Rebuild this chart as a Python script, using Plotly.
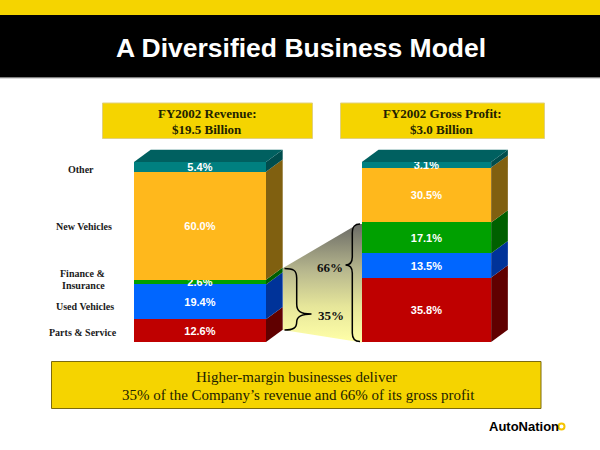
import plotly.graph_objects as go

charts = ["FY2002 Revenue", "FY2002 Gross Profit"]
segments = ["Parts & Service", "Used Vehicles", "Finance & Insurance", "New Vehicles", "Other"]
revenue = [12.6, 19.4, 2.6, 60.0, 5.4]
gross_profit = [35.8, 13.5, 17.1, 30.5, 3.1]
front = ["#BF0000", "#0066FF", "#00A000", "#FFB81C", "#008080"]
side = ["#600000", "#003399", "#006000", "#806010", "#004D4D"]
top_face = "#006060"

PX_X = 226.5          # pixels between the bar centres
PX_Y = 1.8            # pixels per percent
bar_w = [132 / PX_X, 129.3 / PX_X]
DX = 16.7 / PX_X
DY = 12.2 / PX_Y
YEL = "#F5D400"
SERIF = "Liberation Serif"
SANS = "Liberation Sans"

fig = go.Figure()
for i, seg in enumerate(segments):
    vals = [revenue[i], gross_profit[i]]
    fig.add_bar(x=[0, 1], y=vals, width=bar_w, name=seg, marker=dict(color=front[i], line=dict(width=0)),
                text=[f"{v:.1f}%" for v in vals], textposition="inside", insidetextanchor="middle",
                textangle=0, constraintext="none", cliponaxis=False,
                textfont=dict(family=SANS, size=11, color="#FFFFFF", weight="bold"),
                hoverinfo="skip", showlegend=False)

shapes = []
def rect(x0, y0, x1, y1, fill, line=None, lw=1):
    shapes.append(dict(type="rect", xref="x2", yref="y2", x0=x0, y0=y0, x1=x1, y1=y1, fillcolor=fill,
                       line=dict(color=line or fill, width=lw if line else 0), layer="below"))

rect(0, 0, 600, 15, YEL)
rect(0, 15, 600, 77.5, "#000000")
shapes.append(dict(type="line", xref="x2", yref="y2", x0=0, x1=600, y0=77.8, y1=77.8, line=dict(color="#808080", width=1), layer="below"))
rect(102.5, 103, 312.5, 138.5, YEL, "#E0D080")
rect(340.5, 103, 544.5, 138.5, YEL, "#E0D080")
rect(51.5, 361.5, 541, 408.5, YEL, "#7A6A10", 1)

# 3D faces from the cumulative values
for b, vals in enumerate([revenue, gross_profit]):
    xr = b + bar_w[b] / 2
    xl = b - bar_w[b] / 2
    cum = 0
    for i, v in enumerate(vals):
        shapes.append(dict(type="path", xref="x", yref="y", layer="above", line=dict(width=0), fillcolor=side[i],
                           path=f"M{xr},{cum} L{xr+DX},{cum+DY} L{xr+DX},{cum+v+DY} L{xr},{cum+v} Z"))
        cum += v
    shapes.append(dict(type="path", xref="x", yref="y", layer="above", line=dict(width=0), fillcolor=top_face,
                       path=f"M{xl},{cum} L{xl+DX},{cum+DY} L{xr+DX},{cum+DY} L{xr},{cum} Z"))

# connecting wedge
fig.add_scatter(x=[283, 358, 362, 362, 283, 283], y=[268, 224, 224, 342.5, 330, 268], xaxis="x2", yaxis="y2", mode="lines",
                line=dict(width=0), fill="toself", hoverinfo="skip", showlegend=False,
                fillgradient=dict(type="vertical", start=224, stop=342,
                                  colorscale=[[0, "#6A6A66"], [0.4, "#B8B88E"], [0.7, "#E6E69A"], [1, "#FFFFA8"]]))

# braces
shapes.append(dict(type="path", xref="x2", yref="y2", layer="above", line=dict(color="#000000", width=1.5),
                   path="M284.5,268.5 C293,268.5 296.7,270 296.7,278 L296.7,304 C296.7,311 300,314 311.5,314 "
                        "C300,314 296.7,317 296.7,322 C296.7,328 293,330 284.5,330"))
shapes.append(dict(type="path", xref="x2", yref="y2", layer="above", line=dict(color="#000000", width=1.5),
                   path="M360,224 C355,224 352.3,226 352.3,233 L352.3,257 C352.3,262 350,265 345.5,265 "
                        "C350,265 352.3,268 352.3,273 L352.3,333 C352.3,339 355,341.5 360,341.5"))
# logo ring
shapes.append(dict(type="circle", xref="x2", yref="y2", x0=558.5, x1=564.5, y0=423.5, y1=429.5, layer="above",
                   line=dict(color="#F5C400", width=2)))

ann = []
def label(x, y, text, family=SERIF, size=10, color="#1A1A1A", bold=False):
    ann.append(dict(xref="x2", yref="y2", x=x, y=y, text=text, showarrow=False, xanchor="center", yanchor="middle",
                    font=dict(family=family, size=size, color=color, weight="bold" if bold else "normal")))

label(300.5, 48, "A Diversified Business Model", SANS, 26.5, "#FFFFFF", True)
label(207, 113.5, "FY2002 Revenue:", SERIF, 13, "#222200", True)
label(207, 129, "$19.5 Billion", SERIF, 13, "#222200", True)
label(442, 113.5, "FY2002 Gross Profit:", SERIF, 13, "#222200", True)
label(442, 129, "$3.0 Billion", SERIF, 13, "#222200", True)
label(80.5, 169, "Other", bold=True)
label(84, 226.5, "New Vehicles", bold=True)
label(82, 273.5, "Finance &", bold=True)
label(83, 285.5, "Insurance", bold=True)
label(85, 306, "Used Vehicles", bold=True)
label(83, 332, "Parts & Service", bold=True)
label(330, 267.5, "66%", SERIF, 13, "#111111", True)
label(331, 315, "35%", SERIF, 13, "#111111", True)
label(296, 377, "Higher-margin businesses deliver", SERIF, 15, "#222200")
label(298, 395, "35% of the Company’s revenue and 66% of its gross profit", SERIF, 15, "#222200")
label(523.5, 426, "AutoNation", SANS, 13, "#000000", True)

fig.update_layout(
    width=600, height=450, margin=dict(l=0, r=0, t=0, b=0), autosize=False,
    paper_bgcolor="#FFFFFF", plot_bgcolor="rgba(0,0,0,0)", barmode="stack", bargap=0,
    xaxis=dict(range=[-200 / PX_X, 400 / PX_X], domain=[0, 1], visible=False, fixedrange=True),
    yaxis=dict(range=[(342 - 450) / PX_Y, 342 / PX_Y], domain=[0, 1], visible=False, fixedrange=True),
    xaxis2=dict(range=[0, 600], domain=[0, 1], overlaying="x", visible=False, fixedrange=True, anchor="y2"),
    yaxis2=dict(range=[450, 0], domain=[0, 1], overlaying="y", visible=False, fixedrange=True, anchor="x2"),
    shapes=shapes, annotations=ann,
)
fig.write_html("out.html", config=dict(displayModeBar=False),
               post_script="document.body.style.margin='0';document.body.style.overflow='hidden';")
